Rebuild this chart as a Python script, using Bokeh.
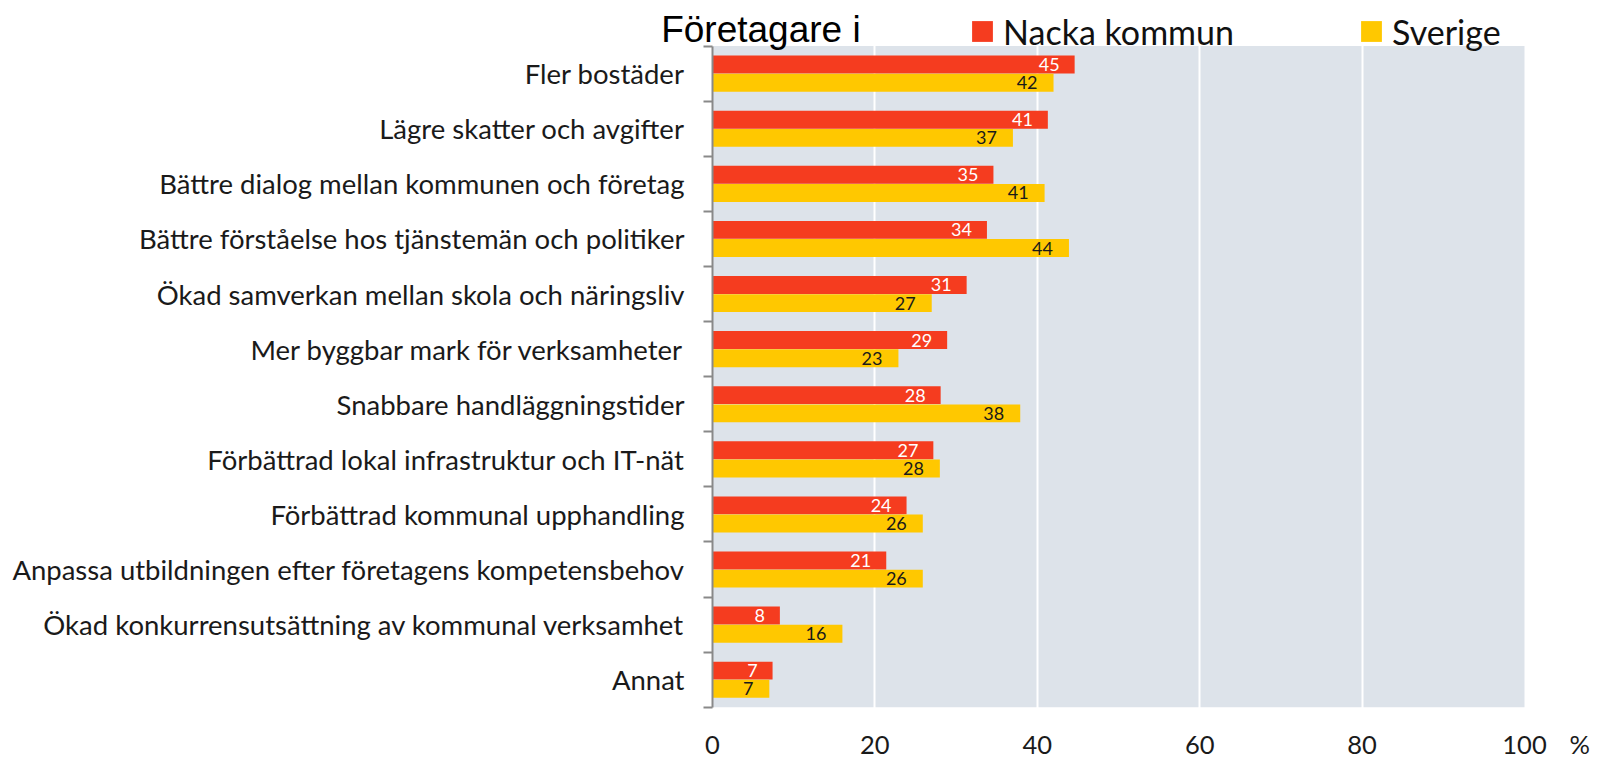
from bokeh.plotting import figure
from bokeh.models import (ColumnDataSource, FixedTicker, Range1d, Label, Legend,
                          LegendItem, BoxAnnotation)
from bokeh.core.properties import value
from bokeh.embed import file_html
from bokeh.resources import INLINE

categories = [
    "Fler bostäder",
    "Lägre skatter och avgifter",
    "Bättre dialog mellan kommunen och företag",
    "Bättre förståelse hos tjänstemän och politiker",
    "Ökad samverkan mellan skola och näringsliv",
    "Mer byggbar mark för verksamheter",
    "Snabbare handläggningstider",
    "Förbättrad lokal infrastruktur och IT-nät",
    "Förbättrad kommunal upphandling",
    "Anpassa utbildningen efter företagens kompetensbehov",
    "Ökad konkurrensutsättning av kommunal verksamhet",
    "Annat",
]
nacka = [44.6, 41.3, 34.6, 33.8, 31.3, 28.9, 28.1, 27.2, 23.9, 21.4, 8.3, 7.4]
sverige = [42.0, 37.0, 40.9, 43.9, 27.0, 22.9, 37.9, 28.0, 25.9, 25.9, 16.0, 7.0]
x_ticks = [0, 20, 40, 60, 80, 100]
unit_label = "%"
title_text = "Företagare i"
series_names = ["Nacka kommun", "Sverige"]

RED = "#f53c1f"
YEL = "#ffc800"
BG = "#dde3ea"
AXIS_GREY = "#898989"
TXT = "#1a1a1a"
FONT = "Lato"

n = len(categories)
centers = [n - i - 0.5 for i in range(n)]
boundaries = list(range(n + 1))

src = ColumnDataSource(dict(
    y_red=[c + 0.165 for c in centers],
    y_yel=[c - 0.165 for c in centers],
    nacka=nacka, sverige=sverige,
    nacka_lbl=[str(round(v)) for v in nacka],
    sverige_lbl=[str(round(v)) for v in sverige],
))

W, H = 1597, 761
p = figure(width=W, height=H,
           x_range=Range1d(-87.68, 108.99), y_range=Range1d(-0.984, 12.828),
           output_backend="svg", toolbar_location=None,
           min_border_left=0, min_border_right=0, min_border_top=0, min_border_bottom=0)
p.background_fill_color = "white"
p.border_fill_color = "white"
p.outline_line_color = None

# grey plot area
p.add_layout(BoxAnnotation(left=0, right=x_ticks[-1], bottom=0, top=n,
                           fill_color=BG, fill_alpha=1.0, line_color=None, level="image"))

p.xgrid.ticker = FixedTicker(ticks=x_ticks[1:-1])
p.xgrid.grid_line_color = "white"
p.xgrid.grid_line_width = 2
p.ygrid.grid_line_color = None

r_red = p.hbar(y="y_red", right="nacka", left=0, height=0.325, source=src,
               fill_color=RED, line_color=None)
r_yel = p.hbar(y="y_yel", right="sverige", left=0, height=0.325, source=src,
               fill_color=YEL, line_color=None)

p.text(x="nacka", y="y_red", text="nacka_lbl", source=src, x_offset=-15,
       text_align="right", text_baseline="middle", text_color="white",
       text_font=value(FONT), text_font_size="18px")
p.text(x="sverige", y="y_yel", text="sverige_lbl", source=src, x_offset=-16,
       text_align="right", text_baseline="middle", text_color=TXT,
       text_font=value(FONT), text_font_size="18px")

# x axis, fixed at y = 0
pct_x = 106.8
xa = p.xaxis[0]
xa.fixed_location = 0
xa.ticker = FixedTicker(ticks=x_ticks + [pct_x])
xa.major_label_overrides = {pct_x: unit_label}
xa.axis_line_color = None
xa.major_tick_line_color = None
xa.major_tick_out = 0
xa.minor_tick_line_color = None
xa.major_label_text_font = FONT
xa.major_label_text_font_size = "25.5px"
xa.major_label_text_color = TXT
xa.major_label_standoff = 22

# y axis, fixed at x = 0: category labels, boundary tick marks
ya = p.yaxis[0]
ya.fixed_location = 0
ya.bounds = (0, n)
ya.ticker = FixedTicker(ticks=centers, minor_ticks=boundaries)
ya.major_label_overrides = {c: lab for c, lab in zip(centers, categories)}
ya.axis_line_color = AXIS_GREY
ya.axis_line_width = 2
ya.major_tick_line_color = None
ya.major_tick_out = 9
ya.major_tick_in = 0
ya.minor_tick_line_color = AXIS_GREY
ya.minor_tick_line_width = 2
ya.minor_tick_out = 9
ya.minor_tick_in = 0
ya.major_label_text_font = FONT
ya.major_label_text_font_size = "27.5px"
ya.major_label_text_color = TXT
ya.major_label_standoff = 19

# title-like text to the left of the legend
p.add_layout(Label(x=-6.32, y=12.298, text=title_text, text_font="Liberation Sans",
                   text_font_size="37px", text_color="#000000",
                   text_baseline="alphabetic", text_align="left"))

def make_legend(label, rend, xloc):
    return Legend(items=[LegendItem(label=label, renderers=[rend])],
                  location=(xloc, 709.2), orientation="horizontal",
                  border_line_color=None, background_fill_alpha=0,
                  padding=0, margin=0, glyph_width=26, glyph_height=26,
                  label_standoff=8, label_text_font=FONT,
                  label_text_font_size="34px", label_height=26,
                  label_text_color="#111111")

p.add_layout(make_legend(series_names[0], r_red, 969.1))
p.add_layout(make_legend(series_names[1], r_yel, 1358.1))

open("out.html", "w").write(file_html(p, INLINE))
